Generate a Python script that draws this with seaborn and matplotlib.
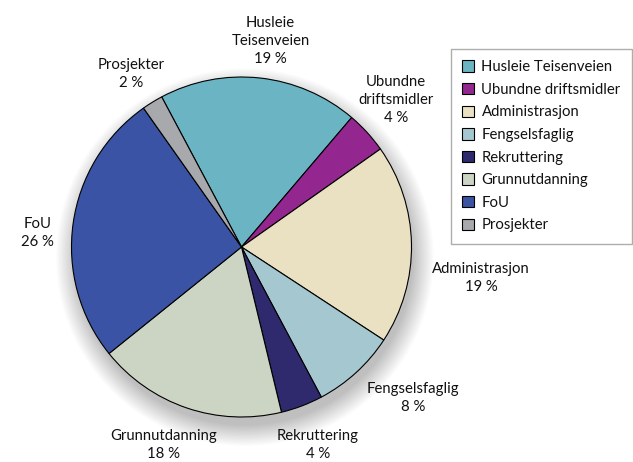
import numpy as np
import matplotlib
matplotlib.use('Agg')
import matplotlib.pyplot as plt
import matplotlib.patches as mpatches
import seaborn as sns

# data
categories = ['Husleie Teisenveien', 'Ubundne driftsmidler', 'Administrasjon',
              'Fengselsfaglig', 'Rekruttering', 'Grunnutdanning', 'FoU', 'Prosjekter']
slice_labels = ['Husleie\nTeisenveien', 'Ubundne\ndriftsmidler', 'Administrasjon',
                'Fengselsfaglig', 'Rekruttering', 'Grunnutdanning', 'FoU', 'Prosjekter']
shares = [19, 4, 19, 8, 4, 18, 26, 2]
colors = ['#6AB4C4', '#93278F', '#EAE0C2', '#A5C8D0', '#2F2A6E', '#CCD5C4', '#3A53A4', '#A7A9AC']

# label anchors (data units, pie radius = 1)
label_pos = [(0.17, 1.21), (0.91, 0.865), (1.41, -0.18), (1.01, -0.89),
             (0.45, -1.165), (-0.46, -1.165), (-1.20, 0.08), (-0.65, 1.02)]

sns.set_theme(style='white')
plt.rcParams['font.family'] = ['Lato', 'DejaVu Sans']

W, H = 633, 462
fig = plt.figure(figsize=(W / 100, H / 100), dpi=100)
cx, cy, r = 241.5, 247, 170
ax = fig.add_axes([(cx - 260) / W, (H - cy - 260) / H, 520 / W, 520 / H])

# soft shadow, mostly below the pie
for i in range(16):
    ax.add_patch(mpatches.Circle((0.02, -0.06), 0.99 + i * 0.008, color='black',
                                 alpha=0.014, lw=0, zorder=0))

palette = sns.color_palette(colors)
wedges, _ = ax.pie(shares, colors=palette, startangle=118, counterclock=False,
                   wedgeprops=dict(edgecolor='black', linewidth=0.8), radius=1.0)
for w in wedges:
    w.set_zorder(2)

for lab, val, (x, y) in zip(slice_labels, shares, label_pos):
    ax.text(x, y, f'{lab}\n{val} %', ha='center', va='center', fontsize=10.7,
            linespacing=1.35, color='#111111')

lim = 260 / r
ax.set_xlim(-lim, lim)
ax.set_ylim(-lim, lim)
ax.set_aspect('equal')
ax.axis('off')

handles = [mpatches.Patch(facecolor=c, edgecolor='black', linewidth=0.8) for c in palette]
leg = fig.legend(handles, categories, loc='upper left',
                 bbox_to_anchor=(451 / W, (H - 49) / H), borderaxespad=0,
                 frameon=True, fancybox=False, fontsize=10.7, handlelength=0.8,
                 handleheight=0.8, handletextpad=0.5, labelspacing=0.58,
                 borderpad=0.75)
for t in leg.get_texts():
    t.set_color('#111111')
leg.get_frame().set_edgecolor('#999999')
leg.get_frame().set_linewidth(1.0)

fig.savefig('out.png', dpi=100)
